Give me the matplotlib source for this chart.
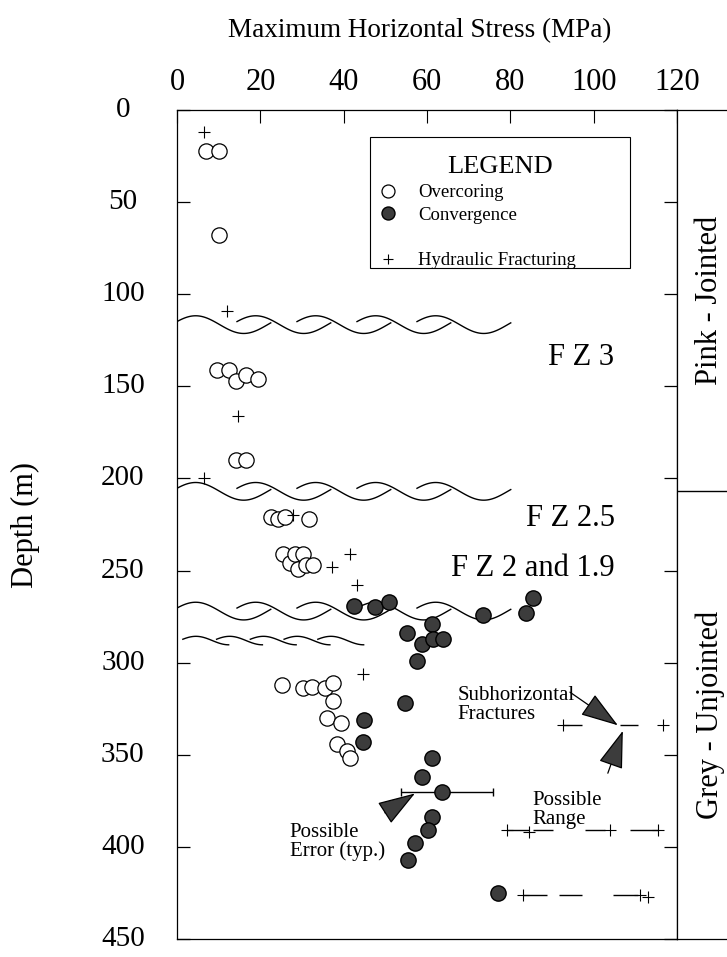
import numpy as np
import matplotlib
matplotlib.use('Agg')
import matplotlib.pyplot as plt
from matplotlib.lines import Line2D
from matplotlib.patches import Rectangle

plt.rcParams['font.family'] = ['Liberation Serif', 'DejaVu Serif']

# overcoring (open circles)
over_x = [7, 10, 10, 9.6, 12.5, 14.2, 16.6, 19.4, 14.2, 16.6, 22.6, 24.2, 25.9, 31.7,
          25.4, 27.1, 28.3, 29.0, 30.2, 31.0, 32.6, 25.2, 30.2, 32.4, 35.5, 37.4,
          37.4, 36.0, 39.4, 38.4, 40.8, 41.5]
over_d = [22, 22, 68, 141, 141, 147, 144, 146, 190, 190, 221, 222, 221, 222,
          241, 246, 241, 249, 241, 247, 247, 312, 314, 313, 314, 311,
          321, 330, 333, 344, 348, 352]

# convergence (filled circles)
conv_x = [42.5, 47.5, 50.9, 61.2, 55.2, 58.8, 61.4, 63.8, 57.6, 73.4, 83.8, 85.4,
          54.7, 44.9, 44.6, 61.2, 58.8, 63.6, 61.2, 60.2, 57.1, 55.4, 77.0]
conv_d = [269, 270, 267, 279, 284, 290, 287, 287, 299, 274, 273, 265,
          322, 331, 343, 352, 362, 370, 384, 391, 398, 407, 425]

# hydraulic fracturing (+)
hf_x = [6.5, 12, 14.6, 6.5, 27.8, 41.5, 37.2, 43.2, 44.6, 92.6, 116.6,
        79.2, 84.5, 103.9, 115.4, 83.0, 111.1, 113.0]
hf_d = [12, 109, 166, 200, 220, 241, 248, 258, 306, 334, 334,
        391, 392, 391, 391, 426, 426, 427]

# possible range dashes
range_d = [334, 334, 391, 391, 391, 391, 426, 426, 426]
range_x0 = [92.6, 106.3, 79.2, 85.4, 97.9, 108.7, 83.0, 91.7, 104.6]
range_x1 = [97.2, 110.6, 84.5, 90.2, 102.7, 115.4, 88.8, 97.2, 110.6]

# possible error bar
err_d = 370
err_x0, err_x1 = 53.8, 75.8

# fault zones (depth of wavy lines)
fz_depth = [116.5, 207, 272]
fz_small_depth = 288
unit_split = 207

x_ticks = [0, 20, 40, 60, 80, 100, 120]
d_ticks = [0, 50, 100, 150, 200, 250, 300, 350, 400, 450]


def wave_chain(ax, depth, x_start, n_seg, spacing, length, amp, small=False):
    t = np.linspace(0, 1, 80)
    for i in range(n_seg):
        x0 = x_start + i * spacing
        if small:
            th = -0.4 * np.pi + 1.4 * np.pi * t
            y = depth - amp * np.cos(th)
        else:
            th = 0.35 + (2 * np.pi - 0.15) * t
            y = depth - amp * np.sin(th)
        ax.plot(x0 + length * t, y, color='black', lw=1.0, zorder=1)


fig = plt.figure(figsize=(7.27, 9.57), dpi=100)
ax = fig.add_axes([177 / 727, 18 / 957, 500 / 727, 829 / 957])
ax_r = fig.add_axes([677 / 727, 18 / 957, 70 / 727, 829 / 957])

for d in fz_depth:
    wave_chain(ax, d, 0, 5, 14.4, 22.5, 4.8)
wave_chain(ax, fz_small_depth, 1.4, 5, 8.1, 11, 2.3, small=True)

ax.hlines(range_d, range_x0, range_x1, color='black', lw=1.0)
ax.errorbar([(err_x0 + err_x1) / 2], [err_d], xerr=[(err_x1 - err_x0) / 2],
            fmt='none', ecolor='black', elinewidth=1.0, capsize=3)

h_over, = ax.plot(over_x, over_d, 'o', mfc='white', mec='black', ms=11, mew=0.9,
                  zorder=3)
h_conv, = ax.plot(conv_x, conv_d, 'o', mfc='#3c3c3c', mec='black', ms=11, mew=1.0,
                  zorder=4)
h_hf, = ax.plot(hf_x, hf_d, '+', color='black', ms=8, mew=0.8, zorder=5)
blank = Line2D([], [], linestyle='none')

# legend box drawn separately so the content can sit low in it
ax.add_patch(Rectangle((46.3, 14.6), 62.4, 71.2, fill=True, fc='white',
                       ec='black', lw=0.8, zorder=6))
leg = ax.legend([h_over, h_conv, blank, h_hf],
                ['Overcoring', 'Convergence', '', 'Hydraulic Fracturing'],
                title='LEGEND', loc='upper left',
                bbox_to_anchor=(0.386, 0.7542, 0.52, 0.2), mode='expand',
                fontsize=13.5, title_fontsize=19, frameon=False,
                borderpad=0.45, labelspacing=0.3,
                handlelength=1.0, handletextpad=1.1, markerscale=0.85,
                borderaxespad=0)
leg.set_zorder(7)

# text annotations
ax.text(105, 134.5, 'F Z 3', fontsize=22, ha='right', va='center')
ax.text(105, 222, 'F Z 2.5', fontsize=22, ha='right', va='center')
ax.text(105, 249, 'F Z 2 and 1.9', fontsize=22, ha='right', va='center')
ax.text(67.4, 323, 'Subhorizontal\nFractures', fontsize=15, ha='left', va='center',
        linespacing=0.95)
ax.text(27.0, 397.5, 'Possible\nError (typ.)', fontsize=15, ha='left', va='center',
        linespacing=0.95)
ax.text(85.2, 380, 'Possible\nRange', fontsize=15, ha='left', va='center',
        linespacing=0.95)

arrow = dict(arrowstyle='-|>,head_length=1.0,head_width=0.33', mutation_scale=24,
             fc='#3c3c3c', ec='black', lw=0.9, shrinkA=0, shrinkB=0)
ax.annotate('', xy=(57.1, 371), xytext=(49.9, 381.5), arrowprops=arrow)
ax.annotate('', xy=(105.8, 334), xytext=(94.3, 316), arrowprops=arrow)
ax.annotate('', xy=(107, 337), xytext=(103.4, 360), arrowprops=arrow)

# axes styling
ax.set_xlim(0, 120)
ax.set_ylim(450, 0)
ax.set_xticks(x_ticks)
ax.set_yticks(d_ticks)
ax.set_yticklabels([str(v) for v in d_ticks], ha='center', va='center')
ax.xaxis.tick_top()
ax.tick_params(axis='x', direction='in', length=9.5, width=0.8, top=True,
               bottom=False, labeltop=True, labelbottom=False, labelsize=22, pad=9)
ax.tick_params(axis='y', direction='in', length=9.5, width=0.9, left=True,
               right=True, labelsize=21, pad=39)
ax.set_xlabel('Maximum Horizontal Stress (MPa)', fontsize=19.5)
ax.xaxis.set_label_position('top')
ax.xaxis.set_label_coords(0.486, 1.088)
ax.set_ylabel('Depth (m)', fontsize=22)
ax.yaxis.set_label_coords(-0.274, 0.5)
for s in ax.spines.values():
    s.set_linewidth(0.9)

ax_r.set_xlim(0, 1)
ax_r.set_ylim(450, 0)
ax_r.set_xticks([])
ax_r.set_yticks([])
ax_r.axhline(unit_split, color='black', lw=1.0)
ax_r.text(0.47, unit_split / 2, 'Pink - Jointed', rotation=90, fontsize=22,
          ha='center', va='center')
ax_r.text(0.47, (unit_split + 450) / 2, 'Grey - Unjointed', rotation=90,
          fontsize=22, ha='center', va='center')
for s in ax_r.spines.values():
    s.set_linewidth(0.9)

fig.savefig('out.png', dpi=100)
